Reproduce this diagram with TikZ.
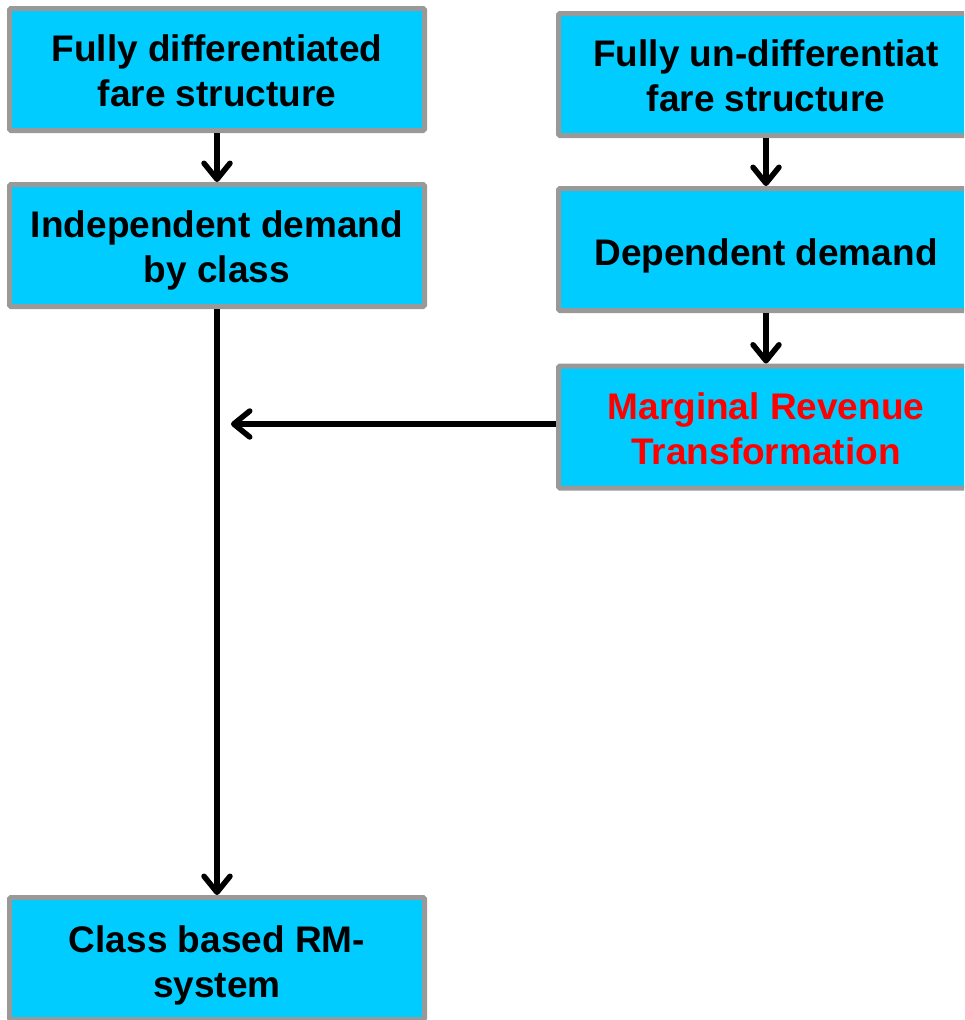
\documentclass[tikz,border=0pt]{standalone}
\usepackage{fontspec}
\setmainfont{Liberation Sans}
\usetikzlibrary{arrows.meta}
\definecolor{boxblue}{HTML}{00CCFF}
\definecolor{boxgray}{HTML}{999999}
\definecolor{mrred}{HTML}{FF0000}
\begin{document}
\begin{tikzpicture}[x=1pt,y=-1pt,
  box/.style={draw=boxgray, fill=boxblue, line width=5pt, rounded corners=1.5pt,
    minimum width=415pt, minimum height=122pt, inner sep=0pt},
  txt/.style={align=center, inner sep=0pt,
    font=\fontsize{37}{45}\selectfont\bfseries},
  conn/.style={line width=5.5pt, draw=black,
    -{Straight Barb[length=16pt,width=26pt,line width=5.5pt,round]}}]
\useasboundingbox (0,0) rectangle (964,1020);
\clip (0,0) rectangle (964,1020);
\node[box] (b1) at (217,69.5) {};
\node[box] (b2) at (217,245.5) {};
\node[box] (b3) at (766,74.5) {};
\node[box] (b4) at (766,249.5) {};
\node[box] (b5) at (766,427) {};
\node[box] (b6) at (217,958.5) {};
\node[txt] (t1) at ([yshift=-1pt]b1.center) {Fully differentiated\\fare structure};
\node[txt] (t2) at ([yshift=-5pt]b2.center) {Independent demand\\by class};
\node[txt] (t3) at ([yshift=-1pt]b3.center) {Fully un-differentiat\\fare structure};
\node[txt] (t4) at ([yshift=-6pt]b4.center) {Dependent demand};
\node[txt, text=mrred] (t5) at ([yshift=-2pt]b5.center) {Marginal Revenue\\Transformation};
\node[txt] (t6) at ([yshift=-7pt]b6.center) {Class based RM-\\system};
\coordinate (join) at (231,424);
\draw[conn] (b1.south) -- (b2.north);
\draw[conn] (b3.south) -- (b4.north);
\draw[conn] (b4.south) -- (b5.north);
\draw[conn] (b2.south) -- (b6.north);
\draw[conn] (b5.west |- join) -- (join);
\end{tikzpicture}
\end{document}
